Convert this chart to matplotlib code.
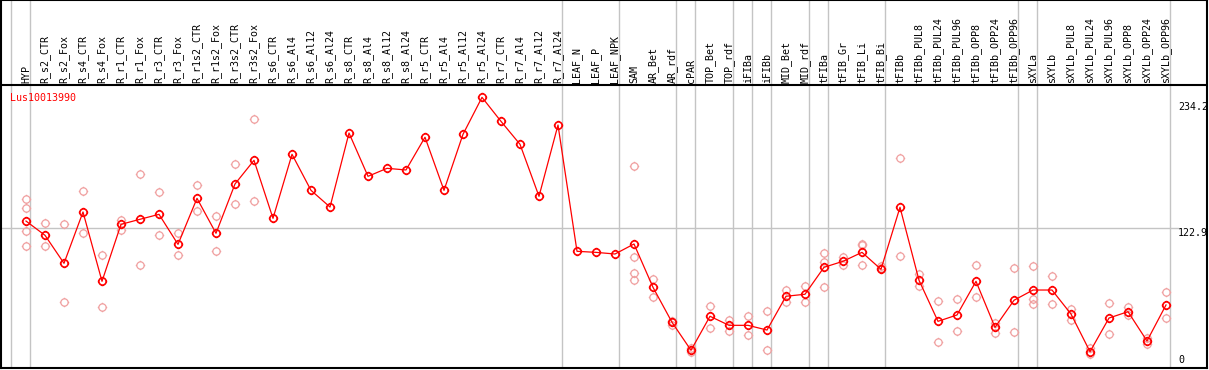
import matplotlib
matplotlib.use("Agg")
import matplotlib.pyplot as plt
import numpy as np
from matplotlib.path import Path

gene = "Lus10013990"

samples = [
    "HYP", "R_s2_CTR", "R_s2_Fox", "R_s4_CTR", "R_s4_Fox", "R_r1_CTR", "R_r1_Fox",
    "R_r3_CTR", "R_r3_Fox", "R_r1s2_CTR", "R_r1s2_Fox", "R_r3s2_CTR", "R_r3s2_Fox",
    "R_s6_CTR", "R_s6_Al4", "R_s6_Al12", "R_s6_Al24", "R_s8_CTR", "R_s8_Al4",
    "R_s8_Al12", "R_s8_Al24", "R_r5_CTR", "R_r5_Al4", "R_r5_Al12", "R_r5_Al24",
    "R_r7_CTR", "R_r7_Al4", "R_r7_Al12", "R_r7_Al24", "LEAF_N", "LEAF_P", "LEAF_NPK",
    "SAM", "AR_Bet", "AR_rdf", "cPAR", "TOP_Bet", "TOP_rdf", "iFIBa", "iFIBb",
    "MID_Bet", "MID_rdf", "tFIBa", "tFIB_Gr", "tFIB_Li", "tFIB_Bi", "tFIBb",
    "tFIBb_PUL8", "tFIBb_PUL24", "tFIBb_PUL96", "tFIBb_OPP8", "tFIBb_OPP24",
    "tFIBb_OPP96", "sXYLa", "sXYLb", "sXYLb_PUL8", "sXYLb_PUL24", "sXYLb_PUL96",
    "sXYLb_OPP8", "sXYLb_OPP24", "sXYLb_OPP96",
]

means = [
    129.1, 117.0, 93.2, 136.8, 77.9, 126.3, 130.6, 134.8, 109.3, 148.4, 118.7,
    160.6, 180.7, 131.4, 185.8, 155.2, 141.0, 203.9, 167.1, 173.9, 172.5, 200.3,
    155.2, 202.8, 234.2, 213.8, 194.3, 150.1, 210.7, 103.4, 102.5, 101.1, 109.6,
    72.8, 43.1, 19.3, 48.2, 40.5, 40.5, 36.5, 65.2, 66.9, 89.8, 94.9, 102.5, 88.1,
    140.8, 78.8, 43.9, 49.3, 77.9, 38.8, 61.8, 70.5, 70.5, 50.1, 18.1, 46.7, 52.1,
    27.2, 57.8,
]

replicates = [
    [147.8, 139.9, 120.6, 107.9], [127.2, 107.9], [126.3, 60.1], [154.6, 118.7],
    [100.0, 55.8], [130.2, 121.5], [168.8, 91.8], [153.5, 117.0], [118.7, 100.0],
    [159.5, 137.4], [133.1, 103.7], [177.3, 143.6], [215.8, 146.1],
    [], [], [], [], [], [], [], [], [], [], [], [], [], [], [], [],
    [], [], [],
    [175.9, 98.3, 85.0, 79.0], [79.6, 64.8], [44.4, 40.8], [21.2, 17.8],
    [57.2, 38.2], [45.0, 35.9], [48.2, 32.0], [52.4, 19.3], [70.5, 60.1],
    [73.7, 60.1], [101.7, 94.3, 72.8], [98.8, 91.8], [109.9, 108.5, 91.5],
    [91.2, 89.2], [182.4, 99.4], [84.1, 74.2], [60.9, 26.1], [62.9, 35.7],
    [91.5, 64.3], [42.7, 34.2], [89.0, 34.6], [90.9, 62.9, 58.4], [82.4, 58.6],
    [54.1, 45.0], [21.0, 15.9], [59.5, 33.1], [56.3, 49.3], [30.0, 24.4],
    [68.6, 46.7],
]

# group separators sit just after these sample indices
group_ends = [-1, 0, 28, 31, 34, 35, 37, 38, 39, 41, 42, 45, 52, 53, 60]
y_marks = [234.2, 122.9, 0]

W, H = 1209, 370
px_per_cat = 19.0
x0_px = 26.0
px_per_unit = 1.177
zero_px = 373.0  # pixel row of value 0


def val(py):
    return (zero_px - py) / px_per_unit


fig = plt.figure(figsize=(W / 100, H / 100), dpi=100)
ax = fig.add_axes([1 / W, (H - 368) / H, 1206 / W, 368 / H])
ax.set_xlim((1 - x0_px) / px_per_cat, (1207 - x0_px) / px_per_cat)
ax.set_ylim(val(368), val(0))
ax.set_xticks([])
ax.set_yticks([])
for s in ax.spines.values():
    s.set_linewidth(1.5)
    s.set_color("black")

font = dict(family="DejaVu Sans Mono", size=7.2)

# marker: polygon circle with four tiny ticks
t = np.linspace(0, 2 * np.pi, 49)
r = 1.3
verts = list(zip(np.cos(t), np.sin(t)))
codes = [Path.MOVETO] + [Path.LINETO] * (len(t) - 1)
for a, b in [((0, 1), (0, r)), ((0, -1), (0, -r)), ((1, 0), (r, 0)), ((-1, 0), (-r, 0))]:
    verts += [a, b]
    codes += [Path.MOVETO, Path.LINETO]
mk = Path(verts, codes)

x = np.arange(len(samples))

for g in group_ends:
    ax.axvline(g + 4 / px_per_cat, color="#c4c4c4", lw=1.0, zorder=1)

ax.axhline(122.9, xmin=0, xmax=(1178 - 1) / 1206, color="#c4c4c4", lw=1.0, zorder=1)
ax.axhline(val(85), color="black", lw=1.5, zorder=3)

rx = [i for i, reps in enumerate(replicates) for _ in reps]
rv = [v for reps in replicates for v in reps]
ax.plot(rx, rv, ls="none", marker=mk, ms=6.8, mfc="none", mec="#f0a0a0",
        mew=0.9, zorder=2)
ax.plot(x, means, color="red", lw=0.9, marker=mk, ms=6.8, mfc="none",
        mec="red", mew=1.2, zorder=4)

for i, name in enumerate(samples):
    ax.text(i, val(83), name, rotation=90, ha="center", va="bottom", **font)

ax.text((10 - x0_px) / px_per_cat, val(97.5), gene, color="red", ha="left",
        va="center", **font)

xl = (1178 - x0_px) / px_per_cat
ax.annotate(f"{y_marks[0]}", (xl, y_marks[0]), xytext=(0, -3), textcoords="offset points",
            ha="left", va="top", **font)
ax.annotate(f"{y_marks[1]}", (xl, y_marks[1]), xytext=(0, 0), textcoords="offset points",
            ha="left", va="top", **font)
ax.annotate(f"{y_marks[2]}", (xl, val(365)), ha="left", va="bottom", **font)

fig.savefig("out.png", dpi=100)
